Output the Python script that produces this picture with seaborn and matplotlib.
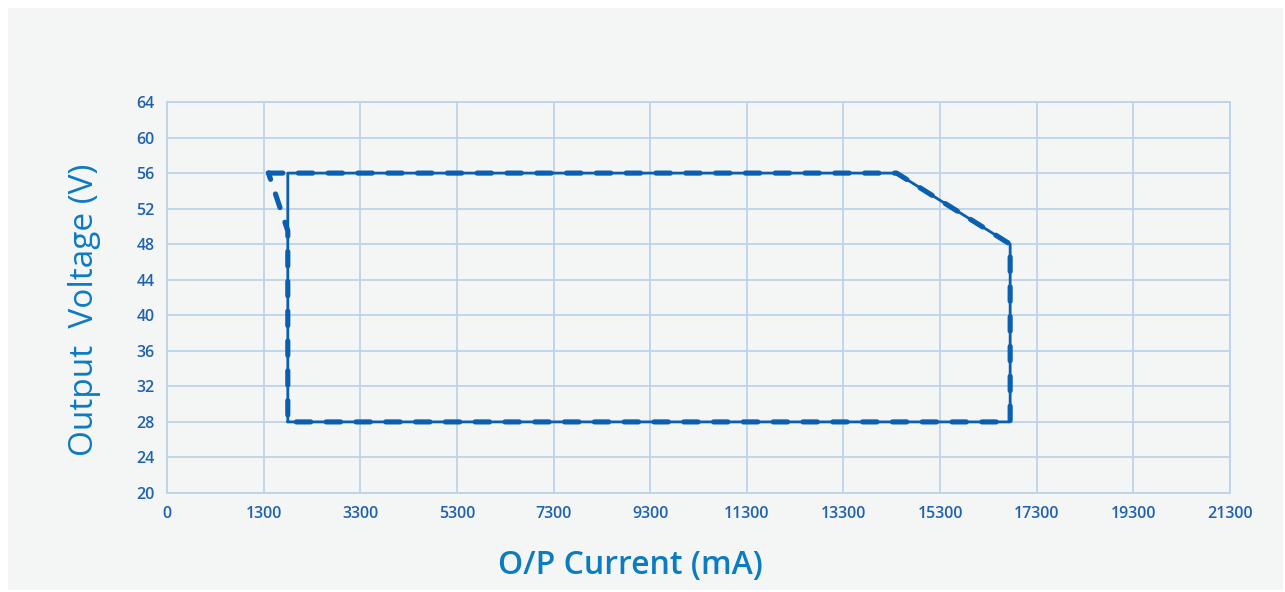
import seaborn as sns
import matplotlib.pyplot as plt
import pandas as pd
from matplotlib.patches import Rectangle

# tick values shown on the axes
x_ticks = [-700, 1300, 3300, 5300, 7300, 9300, 11300, 13300, 15300, 17300, 19300, 21300]
x_labels = ["0", "1300", "3300", "5300", "7300", "9300", "11300", "13300", "15300", "17300", "19300", "21300"]
y_ticks = [20, 24, 28, 32, 36, 40, 44, 48, 52, 56, 60, 64]

# operating envelope (solid) and measured envelope (dashed)
solid_current = [1800, 1800, 14400, 16750, 16750, 1800]
solid_voltage = [28, 56, 56, 48, 28, 28]
dashed_current = [1400, 14400, 16750, 16750, 1800, 1800, 1400]
dashed_voltage = [56, 56, 48, 28, 28, 49.5, 56]

blue = "#0a5fb0"
tick_blue = "#1f62ad"
label_blue = "#0b7bc2"
grid_blue = "#bcd3e8"
panel = "#f4f5f5"

sns.set_theme(style="white")
plt.rcParams["font.family"] = ["Open Sans", "DejaVu Sans"]

fig = plt.figure(figsize=(12.85, 5.92), dpi=100)
fig.patch.set_facecolor("white")
fig.patches.append(Rectangle((8 / 1285, 2 / 592), 1275 / 1285, 582 / 592,
                             transform=fig.transFigure, facecolor=panel,
                             edgecolor="none", zorder=-10))
ax = fig.add_axes([167 / 1285, 1 - 493 / 592, (1230 - 167) / 1285, (493 - 102) / 592])
ax.set_facecolor(panel)

solid_df = pd.DataFrame({"current": solid_current, "voltage": solid_voltage})
dashed_df = pd.DataFrame({"current": dashed_current, "voltage": dashed_voltage})

sns.lineplot(data=solid_df, x="current", y="voltage", sort=False, estimator=None,
             ax=ax, color=blue, linewidth=2.0, zorder=3)
sns.lineplot(data=dashed_df, x="current", y="voltage", sort=False, estimator=None,
             ax=ax, color=blue, linewidth=3.7, linestyle=(0, (2.8, 3.0)), zorder=4,
             dash_capstyle="round")

ax.set_xlim(-700, 21300)
ax.set_ylim(20, 64)
ax.set_xticks(x_ticks)
ax.set_xticklabels(x_labels)
ax.set_yticks(y_ticks)
ax.grid(True, color=grid_blue, linewidth=1.3)
for s in ax.spines.values():
    s.set_color(grid_blue)
    s.set_linewidth(1.3)
ax.tick_params(axis="both", length=0, labelsize=11.5, labelcolor=tick_blue, pad=9)
for t in ax.get_xticklabels() + ax.get_yticklabels():
    t.set_fontweight("semibold")

ax.set_xlabel("O/P Current (mA)", fontsize=23, color=label_blue, fontweight="semibold")
ax.xaxis.set_label_coords((630 - 167) / (1230 - 167), -(566 - 493) / (493 - 102), transform=ax.transAxes)
ax.xaxis.label.set_verticalalignment("center")
ax.set_ylabel("Output  Voltage (V)", fontsize=24, color=label_blue)
ax.yaxis.set_label_coords(-(167 - 85) / (1230 - 167), (493 - 310) / (493 - 102), transform=ax.transAxes)
ax.yaxis.label.set_verticalalignment("center")

plt.savefig("out.png", dpi=100, facecolor=fig.get_facecolor())
plt.close()
